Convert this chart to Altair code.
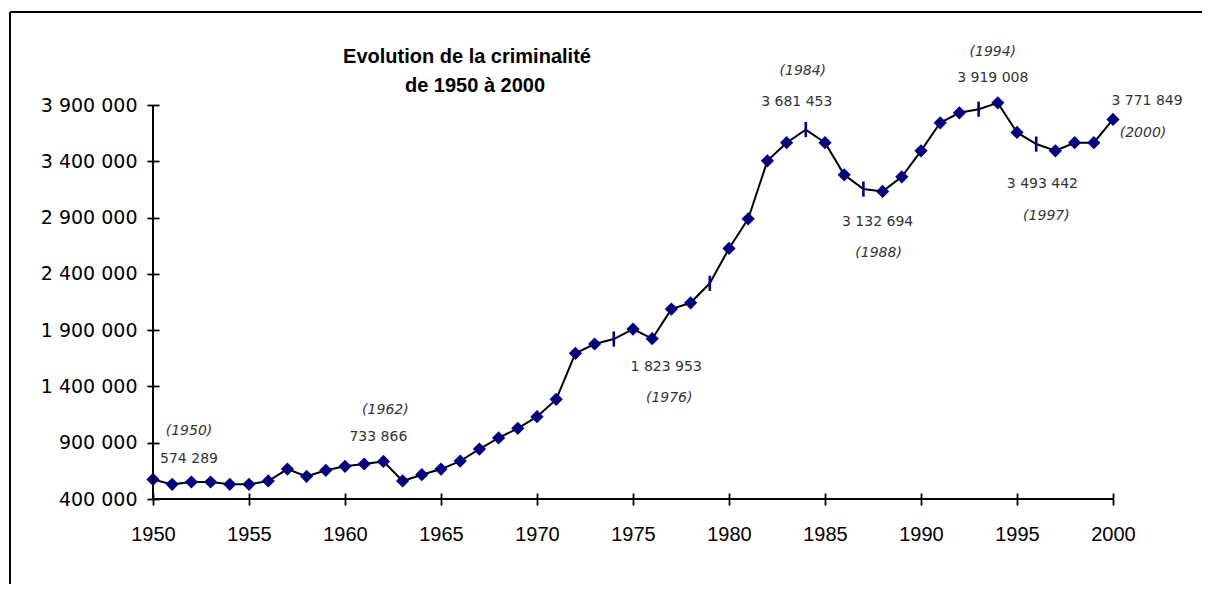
import altair as alt
import pandas as pd

# ---- data ----
years = list(range(1950, 2001))
crimes = [
    574289, 530000, 551000, 551000, 530000, 530000, 560000, 666000, 601000, 655000,
    690000, 711000, 733866, 560000, 616000, 666000, 737000, 844000, 942000, 1028000,
    1131000, 1285000, 1694000, 1777000, 1821000, 1910000, 1823953, 2087000, 2143000, 2316000,
    2626000, 2889000, 3404000, 3565000, 3681453, 3565000, 3280000, 3153000, 3132694, 3262000,
    3493000, 3742000, 3831000, 3863000, 3919008, 3656000, 3553000, 3493442, 3565000, 3565000,
    3771849,
]
tick_marker_years = [1974, 1979, 1984, 1987, 1993, 1996]

note_years = [1950, 1962, 1976, 1984, 1988, 1994, 1997, 2000]
note_values = ["574 289", "733 866", "1 823 953", "3 681 453", "3 132 694",
               "3 919 008", "3 493 442", "3 771 849"]
note_year_text = ["(1950)", "(1962)", "(1976)", "(1984)", "(1988)",
                  "(1994)", "(1997)", "(2000)"]

y_ticks = [400000, 900000, 1400000, 1900000, 2400000, 2900000, 3400000, 3900000]
x_ticks = list(range(1950, 2001, 5))
title_lines = ["Evolution de la criminalité", "de 1950 à 2000"]

# ---- tables ----
df = pd.DataFrame({"year": years, "value": crimes})
df["marker"] = ["tick" if y in tick_marker_years else "diamond" for y in years]

notes = pd.DataFrame({
    "year": note_years,
    "value": [crimes[years.index(y)] for y in note_years],
    "vlabel": note_values,
    "ylabel": note_year_text,
})

# ---- layout / style (not data) ----
W, H = 960, 394
NAVY = "#000080"
FONT = "Liberation Sans"
value_offsets = {1950: (36, -20), 1962: (-5, -24), 1976: (14, 28), 1984: (-9, -28),
                 1988: (-5, 31), 1994: (-5, -25), 1997: (-13, 33), 2000: (34, -18)}
year_offsets = {1950: (36, -48), 1962: (2, -51), 1976: (17, 59), 1984: (-3, -59),
                1988: (-4, 62), 1994: (-5, -51), 1997: (-9, 65), 2000: (30, 14)}

xscale = alt.Scale(domain=[1950, 2000], nice=False, zero=False)
yscale = alt.Scale(domain=[400000, 3900000], nice=False, zero=False)

ylabel_expr = "replace(replace(format(datum.value, ','), ',', ' '), ',', ' ')"

xaxis = alt.Axis(
    values=x_ticks, format="d", title=None, grid=False, domain=False,
    offset=-6, tickSize=12, tickWidth=1.8, tickColor="black",
    labelFont=FONT, labelFontSize=20, labelColor="black", labelPadding=19,
    labelFlush=False, labelOverlap=False)
yaxis = alt.Axis(
    values=y_ticks, labelExpr=ylabel_expr, title=None, grid=False, domain=False,
    offset=-6, tickSize=12, tickWidth=1.8, tickColor="black",
    labelFont="DejaVu Sans", labelFontSize=19, labelColor="black", labelPadding=10,
    labelFlush=False, labelOverlap=False)

XE = alt.X("year:Q", scale=xscale, axis=xaxis)
YE = alt.Y("value:Q", scale=yscale, axis=yaxis)

base = alt.Chart(df)

line = base.mark_line(color="black", strokeWidth=2).encode(x=XE, y=YE, order="year:Q")

diamonds = base.transform_filter(alt.datum.marker == "diamond").mark_point(
    shape="diamond", filled=True, color=NAVY, size=175, opacity=1
).encode(x=XE, y=YE)

ticks = base.transform_filter(alt.datum.marker == "tick").mark_point(
    shape="M0,-1L0,1", filled=False, color=NAVY, strokeWidth=2.6, size=230, opacity=1
).encode(x=XE, y=YE)

one = alt.Data(values=[{"k": 1}])
yaxis_line = alt.Chart(one).mark_rule(color="black", strokeWidth=2).encode(
    x=alt.value(0), y=alt.value(0), y2=alt.value(H))
xaxis_line = alt.Chart(one).mark_rule(color="black", strokeWidth=2).encode(
    x=alt.value(0), x2=alt.value(W), y=alt.value(H))
frame_left = alt.Chart(one).mark_rule(color="black", strokeWidth=2).encode(
    x=alt.value(-143), y=alt.value(-93), y2=alt.value(H + 200))
frame_top = alt.Chart(one).mark_rule(color="black", strokeWidth=2).encode(
    x=alt.value(-143), x2=alt.value(W + 200), y=alt.value(-93))

title1 = alt.Chart(one).mark_text(
    text=title_lines[0], font=FONT, fontSize=20, fontWeight="bold", color="black",
    align="center", baseline="alphabetic").encode(x=alt.value(314), y=alt.value(-42))
title2 = alt.Chart(one).mark_text(
    text=title_lines[1], font=FONT, fontSize=20, fontWeight="bold", color="black",
    align="center", baseline="alphabetic").encode(x=alt.value(322), y=alt.value(-13))

note_layers = []
for yr in note_years:
    vdx, vdy = value_offsets[yr]
    ydx, ydy = year_offsets[yr]
    sub = alt.Chart(notes).transform_filter(alt.datum.year == yr)
    note_layers.append(sub.mark_text(
        font="DejaVu Sans", fontSize=14, color="#333333", align="center",
        baseline="middle", dx=vdx, dy=vdy).encode(x=XE, y=YE, text="vlabel:N"))
    note_layers.append(sub.mark_text(
        font="DejaVu Sans", fontSize=14, fontStyle="italic", color="#333333",
        align="center", baseline="middle", dx=ydx, dy=ydy).encode(x=XE, y=YE, text="ylabel:N"))

chart = alt.layer(
    frame_left, frame_top, line, diamonds, ticks, yaxis_line, xaxis_line,
    title1, title2, *note_layers
).properties(
    width=W, height=H,
    autosize=alt.AutoSizeParams(type="none"),
    padding={"left": 145, "top": 97, "right": 89, "bottom": 85},
    background="white",
).configure_view(stroke=None)

chart.save("out.html", embed_options={"renderer": "svg", "actions": False})
